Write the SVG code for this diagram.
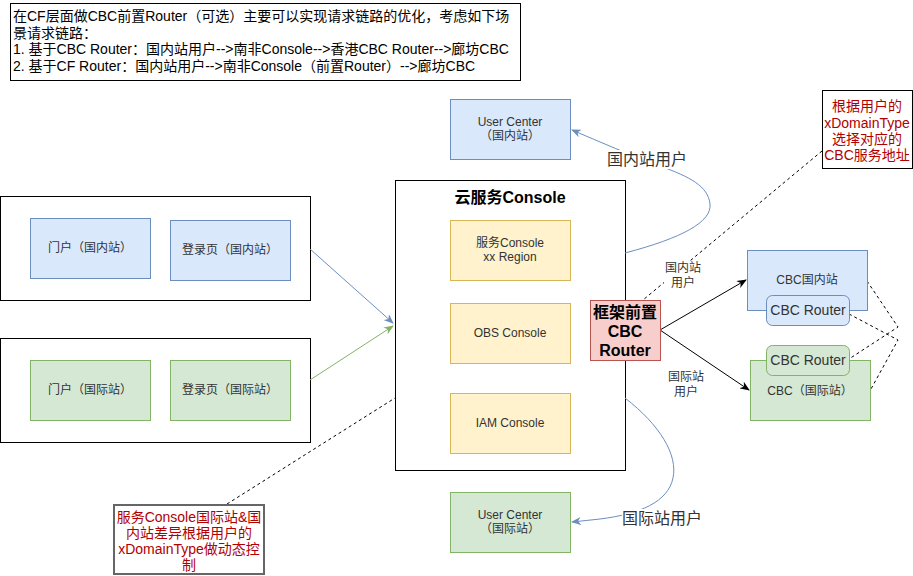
<svg xmlns="http://www.w3.org/2000/svg" width="913" height="576" viewBox="0 0 913 576">
<style>
text{font-family:"Liberation Sans","Noto Sans CJK SC",sans-serif;dominant-baseline:central;text-anchor:middle}
.t12{font-size:12px;fill:#333}
.t14{font-size:14px;fill:#000}
.t16{font-size:16px;fill:#333}
.b16{font-size:16px;font-weight:bold;fill:#000}
.red{font-size:14px;fill:#b20000}
.grp{fill:#fff;stroke:#000;stroke-width:1}
.blue{fill:#dae8fc;stroke:#6c8ebf}
.green{fill:#d5e8d4;stroke:#82b366}
.yellow{fill:#fff2cc;stroke:#d6b656}
.pink{fill:#f8cecc;stroke:#b85450}
.dash{fill:none;stroke:#000;stroke-width:1;stroke-dasharray:3 3}
.lbg{fill:#fff}
</style>
<defs>
<marker id="aBlue" viewBox="0 0 10 8" refX="9" refY="4" markerWidth="10" markerHeight="8" orient="auto" markerUnits="userSpaceOnUse"><path d="M0,0 L10,4 L0,8 L3,4 z" fill="#6c8ebf"/></marker>
<marker id="aGreen" viewBox="0 0 10 8" refX="9" refY="4" markerWidth="10" markerHeight="8" orient="auto" markerUnits="userSpaceOnUse"><path d="M0,0 L10,4 L0,8 L3,4 z" fill="#82b366"/></marker>
<marker id="aBlack" viewBox="0 0 10 8" refX="9" refY="4" markerWidth="10" markerHeight="8" orient="auto" markerUnits="userSpaceOnUse"><path d="M0,0 L10,4 L0,8 L3,4 z" fill="#000"/></marker>
</defs>
<rect x="0" y="0" width="913" height="576" fill="#fff"/>

<g id="intro">
<rect x="10.5" y="3.5" width="510" height="77" fill="#fff" stroke="#000"/>
<text class="t14" x="13" y="16" style="text-anchor:start">在CF层面做CBC前置Router（可选）主要可以实现请求链路的优化，考虑如下场</text>
<text class="t14" x="13" y="32.5" style="text-anchor:start">景请求链路：</text>
<text class="t14" x="13" y="49" style="text-anchor:start">1. 基于CBC Router：国内站用户--&gt;南非Console--&gt;香港CBC Router--&gt;廊坊CBC</text>
<text class="t14" x="13" y="65.5" style="text-anchor:start">2. 基于CF Router：国内站用户--&gt;南非Console（前置Router）--&gt;廊坊CBC</text>
</g>

<g id="domestic-group">
<rect class="grp" x="0.5" y="196.5" width="310" height="104"/>
</g>
<g id="portal-cn">
<rect class="blue" x="30.5" y="218.5" width="120" height="60"/>
<text class="t12" x="90" y="248">门户（国内站）</text>
</g>
<g id="login-cn">
<rect class="blue" x="170.5" y="220.5" width="120" height="60"/>
<text class="t12" x="230" y="250">登录页（国内站）</text>
</g>

<g id="intl-group">
<rect class="grp" x="0.5" y="338.5" width="310" height="104"/>
</g>
<g id="portal-intl">
<rect class="green" x="30.5" y="360.5" width="120" height="60"/>
<text class="t12" x="90" y="390">门户（国际站）</text>
</g>
<g id="login-intl">
<rect class="green" x="170.5" y="360.5" width="120" height="60"/>
<text class="t12" x="230" y="390">登录页（国际站）</text>
</g>

<g id="console">
<rect class="grp" x="395.5" y="180.5" width="230" height="290"/>
<text class="b16" x="510" y="197">云服务Console</text>
</g>
<g id="svc-console">
<rect class="yellow" x="450.5" y="220.5" width="120" height="60"/>
<text class="t12" x="510" y="243">服务Console</text>
<text class="t12" x="510" y="257">xx Region</text>
</g>
<g id="obs-console">
<rect class="yellow" x="450.5" y="303.5" width="120" height="60"/>
<text class="t12" x="510" y="333">OBS Console</text>
</g>
<g id="iam-console">
<rect class="yellow" x="450.5" y="393.5" width="120" height="60"/>
<text class="t12" x="510" y="423">IAM Console</text>
</g>

<g id="uc-cn">
<rect class="blue" x="450.5" y="99.5" width="120" height="60"/>
<text class="t12" x="510" y="122">User Center</text>
<text class="t12" x="510" y="136">（国内站）</text>
</g>
<g id="uc-intl">
<rect class="green" x="450.5" y="492.5" width="120" height="60"/>
<text class="t12" x="510" y="515">User Center</text>
<text class="t12" x="510" y="529">（国际站）</text>
</g>

<g id="connectors">
<path d="M310,249 L393,323" fill="none" stroke="#6c8ebf" marker-end="url(#aBlue)"/>
<path d="M310,380 L393,326" fill="none" stroke="#82b366" marker-end="url(#aGreen)"/>
<path d="M660,330 L746,280" fill="none" stroke="#000" marker-end="url(#aBlack)"/>
<path d="M660,330 L749,390" fill="none" stroke="#000" marker-end="url(#aBlack)"/>
<path d="M625,253 C682,238 712,222 710,204 C708,186 690,177 660,166 C630,155 600,142 572,130" fill="none" stroke="#6c8ebf" marker-end="url(#aBlue)"/>
<path d="M625,398 C660,425 678,455 673,478 C668,502 640,514 600,519 L572,522" fill="none" stroke="#6c8ebf" marker-end="url(#aBlue)"/>
<path class="dash" d="M822,151 L643,300"/>
<path class="dash" d="M227,504 L395,398"/>
<path class="dash" d="M867,281 L898,327 L849,359"/>
<path class="dash" d="M849,314 L898,340 L871,389"/>
<rect class="lbg" x="607" y="150" width="80" height="19"/>
<text class="t16" x="647" y="159">国内站用户</text>
<rect class="lbg" x="622" y="509" width="80" height="19"/>
<text class="t16" x="662" y="518">国际站用户</text>
<rect class="lbg" x="664" y="261" width="38" height="29"/>
<text class="t12" x="683" y="268">国内站</text>
<text class="t12" x="683" y="283">用户</text>
<rect class="lbg" x="667" y="370" width="38" height="29"/>
<text class="t12" x="686" y="377">国际站</text>
<text class="t12" x="686" y="392">用户</text>
</g>

<g id="cf-router">
<rect class="pink" x="590.5" y="300.5" width="70" height="60"/>
<text class="b16" x="625" y="312">框架前置</text>
<text class="b16" x="625" y="331">CBC</text>
<text class="b16" x="625" y="350">Router</text>
</g>

<g id="cbc-cn">
<rect class="blue" x="747.5" y="250.5" width="120" height="60"/>
<text class="t12" x="807" y="280">CBC国内站</text>
</g>
<g id="cbc-router-cn">
<rect class="blue" x="766.5" y="295.5" width="83" height="30" rx="6"/>
<text class="t14" x="808" y="310" style="fill:#333">CBC Router</text>
</g>
<g id="cbc-intl">
<rect class="green" x="750.5" y="360.5" width="120" height="60"/>
<text class="t12" x="810" y="391">CBC（国际站）</text>
</g>
<g id="cbc-router-intl">
<rect class="green" x="766.5" y="345.5" width="83" height="30" rx="6"/>
<text class="t14" x="808" y="360" style="fill:#333">CBC Router</text>
</g>

<g id="note-xdomain">
<rect x="822.5" y="90.5" width="90" height="78" fill="#fff" stroke="#000"/>
<text class="red" x="867" y="106">根据用户的</text>
<text class="red" x="867" y="122.5">xDomainType</text>
<text class="red" x="867" y="138.5">选择对应的</text>
<text class="red" x="867" y="154.5">CBC服务地址</text>
</g>
<g id="note-console">
<rect x="114" y="505" width="150" height="69" fill="#fff" stroke="#666" stroke-width="2"/>
<text class="red" x="189" y="517">服务Console国际站&amp;国</text>
<text class="red" x="189" y="533">内站差异根据用户的</text>
<text class="red" x="189" y="549">xDomainType做动态控</text>
<text class="red" x="189" y="565">制</text>
</g>
</svg>
